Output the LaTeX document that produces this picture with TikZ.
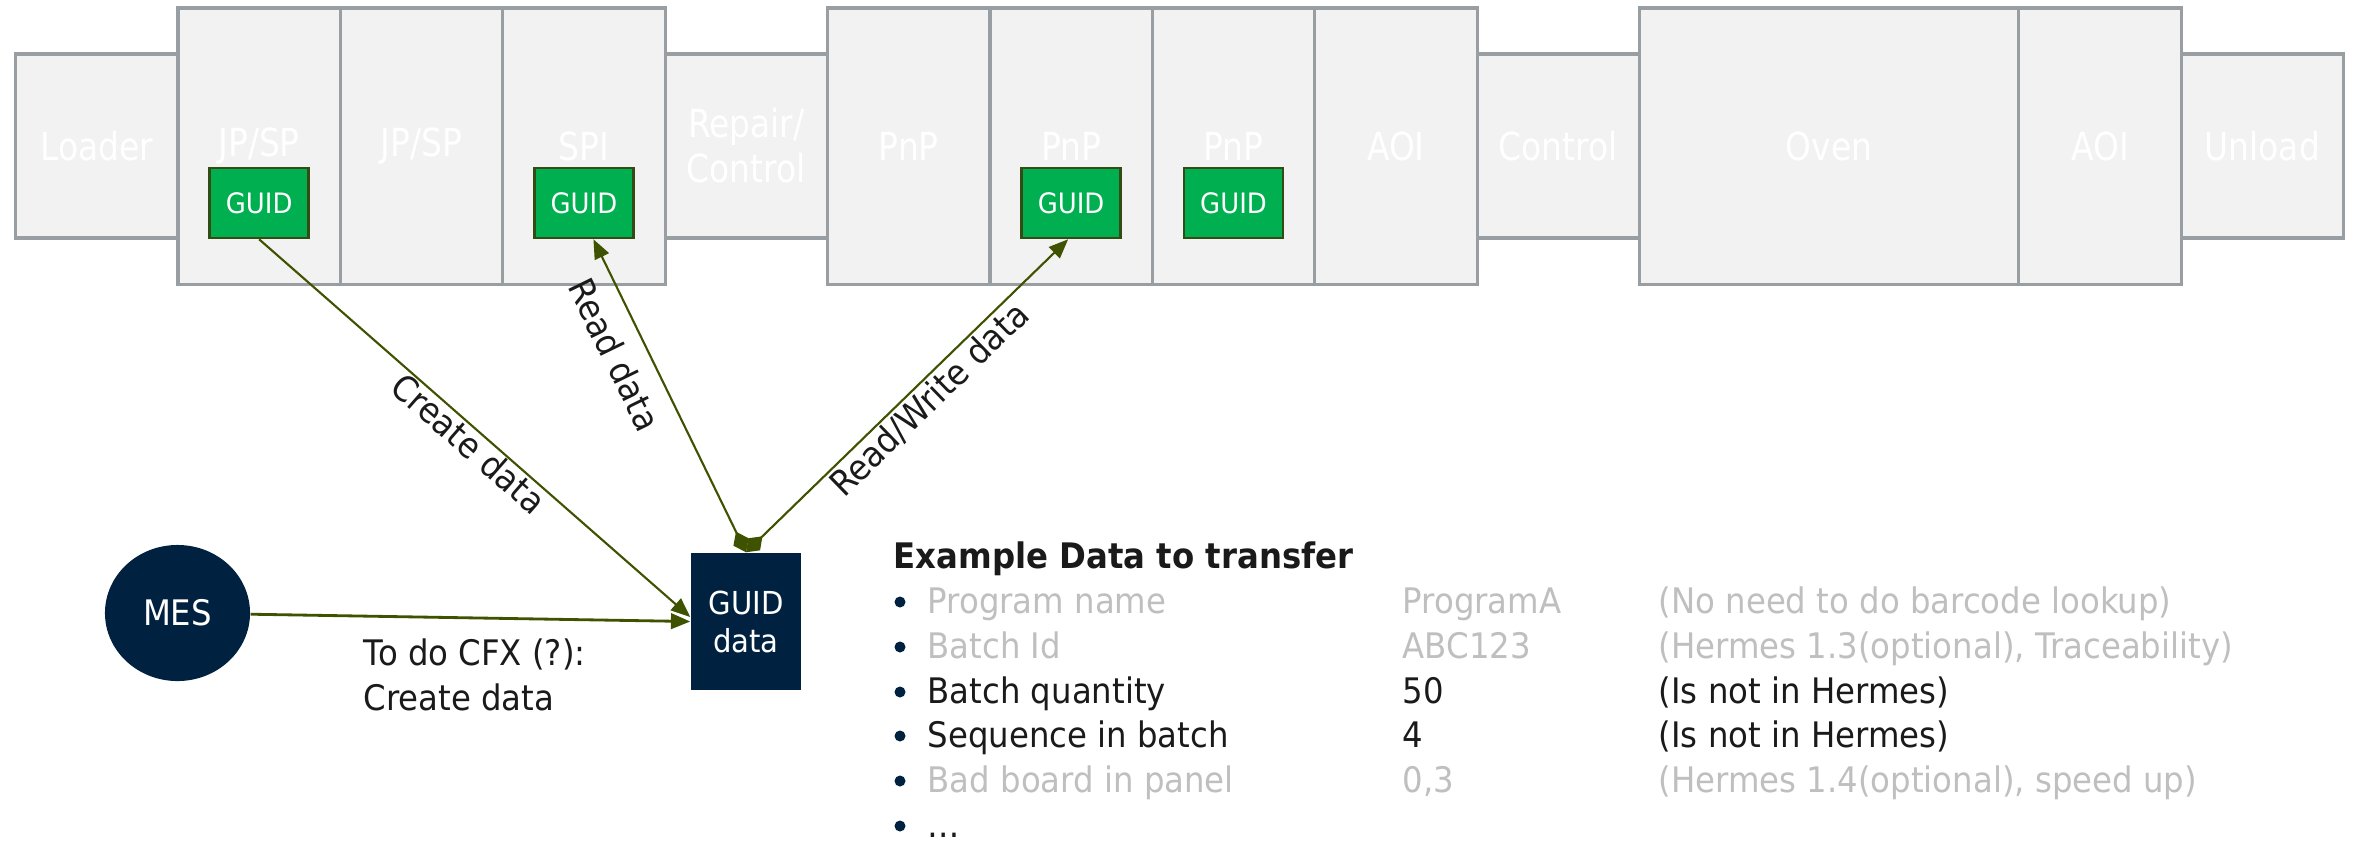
\documentclass[tikz,border=0pt]{standalone}
\usepackage{fontspec}
\setmainfont{DejaVu Sans}[FakeStretch=0.92]
\newfontfamily\stationfont{DejaVu Sans}[FakeStretch=0.85]
\usetikzlibrary{positioning,shapes.geometric,arrows.meta}

\definecolor{boxgray}{RGB}{242,242,242}
\definecolor{linegray}{RGB}{153,158,162}
\definecolor{guidgreen}{RGB}{0,176,80}
\definecolor{guidedge}{RGB}{52,76,20}
\definecolor{navy}{RGB}{0,34,64}
\definecolor{olivelink}{RGB}{62,82,0}
\definecolor{softgray}{RGB}{191,191,191}
\definecolor{inkblack}{RGB}{26,26,26}

\begin{document}
\begin{tikzpicture}[x=0.01cm, y=-0.01cm,
    >={Triangle[length=5.5pt, width=4.4pt]},
    station/.style={draw=linegray, line width=0.9pt, fill=boxgray, text=white,
      font=\stationfont\fontsize{11}{12.8}\selectfont, align=center,
      minimum width=1.623cm, inner sep=0pt, outer sep=0pt},
    tallbox/.style={station, minimum height=2.76cm},
    shortbox/.style={station, minimum height=1.84cm},
    guid/.style={draw=guidedge, line width=0.7pt, fill=guidgreen, text=white,
      font=\fontsize{8}{9.6}\selectfont, minimum width=0.99cm, minimum height=0.7cm, inner sep=0pt},
    dark/.style={fill=navy, text=white, inner sep=0pt},
    link/.style={draw=olivelink, line width=0.6pt},
    lbl/.style={sloped, below, inner sep=0pt, text=inkblack, font=\fontsize{10}{12}\selectfont},
    dot/.style={circle, fill=navy, inner sep=0pt, minimum size=1.1mm},
    item/.style={anchor=base west, inner sep=0pt, font=\fontsize{10}{12.8}\selectfont}]
    % White page with the size of the slide
    \path[fill=white, use as bounding box] (0,0) rectangle (2358,845);

    % The line, left to right
    \node[shortbox] (loader) at (96.75,146) {Loader};
    \node[tallbox, right=0pt of loader] (jpa) {JP/SP};
    \node[tallbox, right=0pt of jpa] (jpb) {JP/SP};
    \node[tallbox, right=0pt of jpb] (spi) {SPI};
    \node[shortbox, right=0pt of spi] (repair) {Repair/\\Control};
    \node[tallbox, right=0pt of repair] (pnpa) {PnP};
    \node[tallbox, right=0pt of pnpa] (pnpb) {PnP};
    \node[tallbox, right=0pt of pnpb] (pnpc) {PnP};
    \node[tallbox, right=0pt of pnpc] (aoia) {AOI};
    \node[shortbox, right=0pt of aoia] (ctrl) {Control};
    \node[tallbox, right=0pt of ctrl, minimum width=3.79cm] (oven) {Oven};
    \node[tallbox, right=0pt of oven] (aoib) {AOI};
    \node[shortbox, right=0pt of aoib] (unload) {Unload};

    % GUID readers in the machines
    \node[guid] (gjp) at ([yshift=-5.7mm]jpa.center) {GUID};
    \node[guid] (gspi) at ([yshift=-5.7mm]spi.center) {GUID};
    \node[guid] (gpnpa) at ([yshift=-5.7mm]pnpb.center) {GUID};
    \node[guid] (gpnpb) at ([yshift=-5.7mm]pnpc.center) {GUID};

    % MES and the data record
    \node[dark, ellipse, minimum width=1.45cm, minimum height=1.36cm,
      font=\fontsize{10}{12}\selectfont] (mes) at (177.5,613) {MES};
    \node[dark, minimum width=1.1cm, minimum height=1.37cm, align=center,
      font=\fontsize{9}{10.8}\selectfont] (gdata) at (746,621.5) {GUID\\data};

    \draw[link, line width=0.8pt, ->] (mes) -- (gdata.west);
    \node[item, anchor=north west, align=left, text=inkblack] (cfx) at (363,638) {To do CFX (?):\\Create data};
    \draw[link, ->] (gjp.south) -- ([yshift=0.45mm]gdata.west)
      node[lbl, pos=.51, outer sep=0.5pt] (lblcreate) {Create data};
    \draw[link, {Diamond[length=6.5pt, width=4.8pt]}->] (gdata.north) -- ([xshift=0.95mm]gspi.south)
      node[lbl, pos=.676, outer sep=5pt] (lblread) {Read data};
    \draw[link, {Diamond[length=6.5pt, width=4.8pt]}->] (gdata.north) -- ([xshift=-0.3mm]gpnpa.south)
      node[lbl, pos=.53, outer sep=1pt] (lblrw) {Read/Write data};

    % Example data list
    \node[item, font=\fontsize{10}{12.8}\selectfont\bfseries, text=inkblack] (head) at (893,568) {Example Data to transfer};

    \node[dot] (dota) at (900,602) {};
    \node[item, text=softgray] (namea) at (927,613) {Program name};
    \node[item, text=softgray] (vala) at (1402,613) {ProgramA};
    \node[item, text=softgray] (notea) at (1658,613) {(No need to do barcode lookup)};

    \node[dot] (dotb) at (900,647) {};
    \node[item, text=softgray] (nameb) at (927,658) {Batch Id};
    \node[item, text=softgray] (valb) at (1402,658) {ABC123};
    \node[item, text=softgray] (noteb) at (1658,658) {(Hermes 1.3(optional), Traceability)};

    \node[dot] (dotc) at (900,692) {};
    \node[item, text=inkblack] (namec) at (927,703) {Batch quantity};
    \node[item, text=inkblack] (valc) at (1402,703) {50};
    \node[item, text=inkblack] (notec) at (1658,703) {(Is not in Hermes)};

    \node[dot] (dotd) at (900,736) {};
    \node[item, text=inkblack] (named) at (927,747) {Sequence in batch};
    \node[item, text=inkblack] (vald) at (1402,747) {4};
    \node[item, text=inkblack] (noted) at (1658,747) {(Is not in Hermes)};

    \node[dot] (dote) at (900,781) {};
    \node[item, text=softgray] (namee) at (927,792) {Bad board in panel};
    \node[item, text=softgray] (vale) at (1402,792) {0,3};
    \node[item, text=softgray] (notee) at (1658,792) {(Hermes 1.4(optional), speed up)};

    \node[dot] (dotf) at (900,826) {};
    \node[item, text=inkblack] (namef) at (927,837) {…};
\end{tikzpicture}
\end{document}
